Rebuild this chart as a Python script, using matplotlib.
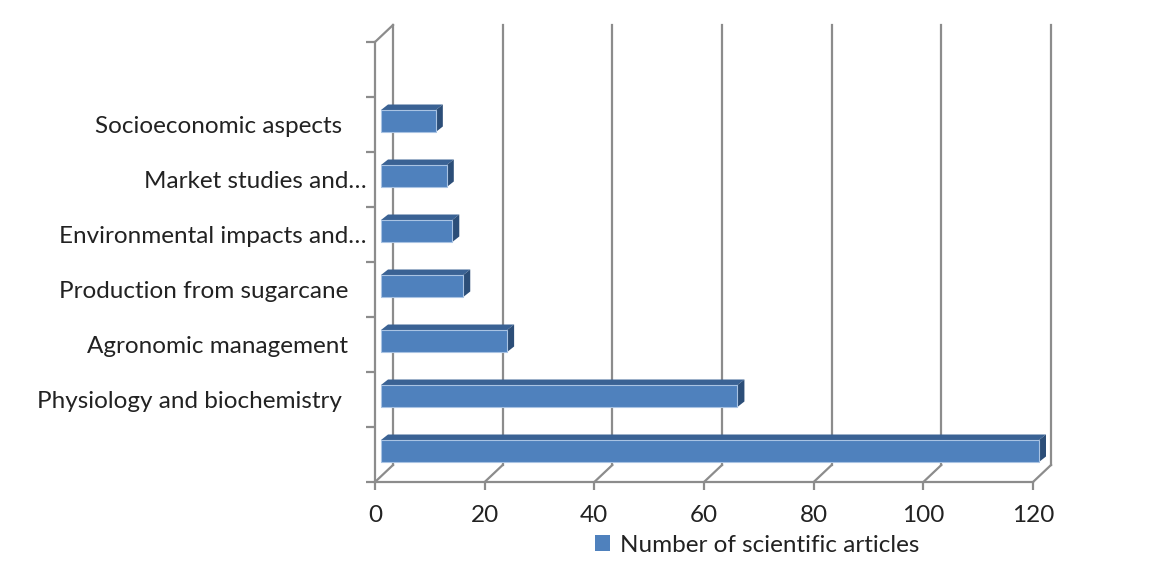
import numpy as np
import matplotlib
matplotlib.use("Agg")
import matplotlib.pyplot as plt
from matplotlib.patches import Polygon, Patch

# Article counts by research topic (bottom category first)
categories = [
    "",
    "Physiology and biochemistry    ",
    "Agronomic management   ",
    "Production from sugarcane   ",
    "Environmental impacts and…",
    "Market studies and…",
    "Socioeconomic aspects    ",
    "",
]
articles = [120, 65, 23, 15, 13, 12, 10, 0]
x_ticks = [0, 20, 40, 60, 80, 100, 120]
series_name = "Number of scientific articles"

plt.rcParams["font.family"] = ["Lato", "DejaVu Sans"]

W, H = 1152, 585
FS = 17.5
TXT = "#222222"
fig = plt.figure(figsize=(W / 100, H / 100), dpi=100)
fig.patch.set_facecolor("white")

# front plane of the plot area, in figure fractions
ax_left, ax_bottom, ax_w, ax_h = 375 / W, 103 / H, 658 / W, 440 / H
ax = fig.add_axes([ax_left, ax_bottom, ax_w, ax_h])
ax.set_xlim(0, 120)
ax.set_ylim(-0.5, len(categories) - 0.5)
for s in ax.spines.values():
    s.set_visible(False)
ax.patch.set_alpha(0)

# pixel -> data unit conversion for the oblique depth offsets
sx = 120 / (ax_w * W)
sy = len(categories) / (ax_h * H)

def off(x, y, dx_px, dy_px):
    return (x + dx_px * sx, y + dy_px * sy)

GRID = "#8c8c8c"
LW = 1.6
DEPTH = (18, 17)
y0, y1 = -0.5, len(categories) - 0.5

# back wall gridlines
for v in x_ticks:
    a = off(v, y0, *DEPTH)
    b = off(v, y1, *DEPTH)
    ax.plot([a[0], b[0]], [a[1], b[1]], color=GRID, lw=LW, clip_on=False, zorder=1)
    # floor diagonal from front tick to back wall
    ax.plot([v, a[0]], [y0, a[1]], color=GRID, lw=LW, clip_on=False, zorder=1)

# front floor edge
ax.plot([0, 120], [y0, y0], color=GRID, lw=LW, clip_on=False, zorder=1)
# left wall: front edge and top diagonal
ax.plot([0, 0], [y0, y1], color=GRID, lw=LW, clip_on=False, zorder=1)
t = off(0, y1, *DEPTH)
ax.plot([0, t[0]], [y1, t[1]], color=GRID, lw=LW, clip_on=False, zorder=1)

# 3-D style bars
FRONT = "#4f81bd"
TOP = "#3a6294"
SIDE = "#2c4e78"
bar_h = 0.40
face_shift = (6, 3.5)
bar_depth = (7, 5.5)
for i, v in enumerate(articles):
    if v <= 0:
        continue
    x_a, yb = off(0, i - bar_h / 2, *face_shift)
    x_b, yt = off(v, i + bar_h / 2, *face_shift)
    front = [(x_a, yb), (x_b, yb), (x_b, yt), (x_a, yt)]
    top = [(x_a, yt), (x_b, yt), off(x_b, yt, *bar_depth), off(x_a, yt, *bar_depth)]
    side = [(x_b, yb), off(x_b, yb, *bar_depth), off(x_b, yt, *bar_depth), (x_b, yt)]
    ax.add_patch(Polygon(top, closed=True, facecolor=TOP, edgecolor="none",
                         clip_on=False, zorder=3))
    ax.add_patch(Polygon(side, closed=True, facecolor=SIDE, edgecolor="none",
                         clip_on=False, zorder=3))
    ax.add_patch(Polygon(front, closed=True, facecolor=FRONT, edgecolor="#a9c3e3",
                         lw=0.8, clip_on=False, zorder=4))

# category axis: tick marks on slot boundaries, labels at slot centres
ax.set_yticks(range(len(categories)))
ax.set_yticklabels(categories, fontsize=FS, color=TXT)
ax.tick_params(axis="y", which="major", length=0, pad=6)
ax.set_yticks(np.arange(-0.5, len(categories), 1.0), minor=True)
ax.tick_params(axis="y", which="minor", length=6.5, width=LW, color=GRID, direction="out")

# value axis
ax.set_xticks(x_ticks)
ax.set_xticklabels([str(v) for v in x_ticks], fontsize=FS, color=TXT)
ax.tick_params(axis="x", which="major", length=5.5, width=LW, color=GRID,
               direction="out", pad=11)

fig.legend(handles=[Patch(facecolor=FRONT, edgecolor="none", label=series_name)],
           loc="center", bbox_to_anchor=(757 / W, 1 - 545 / H), frameon=False,
           fontsize=FS, handlelength=0.65, handleheight=0.65, handletextpad=0.4,
           labelcolor=TXT)

fig.savefig("out.png", dpi=100, facecolor="white")
